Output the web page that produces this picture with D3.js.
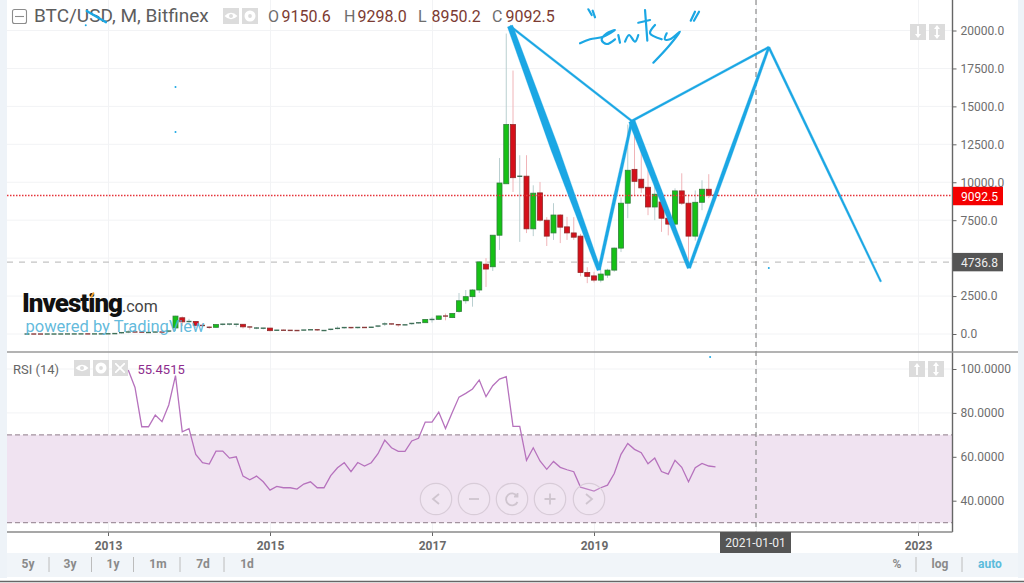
<!DOCTYPE html>
<html>
<head>
<meta charset="utf-8">
<script src="https://cdn.jsdelivr.net/npm/d3@7"></script>
<style>
    html, body { margin: 0; padding: 0; background: #fff; overflow: hidden; }
    text { font-family: Roboto, sans-serif; }
</style>
</head>
<body>
<div id="chart"></div>
<script>
// Monthly candles, first one is 2012-01. Month index 0 = 2013-01
const firstMonth = -12;
const opens = [
    5.3, 5.5, 5, 4.9, 5, 5.1, 6.6, 9.3, 10, 12.4, 10.8, 12.5,
    13.5, 20, 33, 93, 140, 129, 97, 106, 135, 133, 400, 1070,
    800, 830, 570, 450, 440, 620, 650, 630, 640, 470, 390, 380,
    390, 220, 255, 245, 235, 230, 265, 285, 230, 236, 315, 377,
    430, 370, 437, 416, 450, 530, 670, 620, 575, 610, 700, 745,
    960, 965, 1190, 1080, 1480, 2190, 2460, 2900, 4600, 4430, 6510, 9900,
    13800, 10300, 10400, 6930, 9300, 7500, 6660, 7840, 7060, 6660, 6450, 4050,
    3830, 3550, 3880, 4210, 5660, 8620, 10850, 10200, 9670, 8370, 8700, 7630,
    7240, 9430, 8620, 6450, 8680, 9540, 9150.6
];
const highs = [
    7, 6.5, 5.5, 5.5, 5.5, 6.9, 9.5, 15, 12.6, 13, 13, 14,
    21, 35, 95, 260, 140, 130, 110, 140, 150, 220, 1200, 1160,
    1000, 850, 700, 500, 630, 680, 660, 680, 650, 490, 450, 400,
    400, 265, 300, 260, 245, 270, 310, 290, 245, 320, 500, 465,
    460, 445, 440, 470, 540, 780, 680, 625, 615, 700, 750, 970,
    1100, 1200, 1350, 1370, 2700, 2900, 2950, 4800, 5000, 6500, 11600, 19800,
    17360, 11780, 11780, 9800, 10020, 7700, 8620, 7900, 7720, 7700, 6600, 4400,
    4100, 4200, 4300, 5700, 9000, 13800, 13400, 12570, 10790, 10500, 9500, 7800,
    9600, 10590, 9200, 9460, 10130, 10530, 9298
];
const lows = [
    4, 4, 4.5, 4.7, 4.7, 5, 6.3, 7, 9.5, 9.5, 10, 12.5,
    13, 19, 32, 50, 90, 90, 65, 95, 120, 105, 200, 520,
    750, 400, 450, 340, 420, 560, 570, 460, 360, 290, 320, 300,
    170, 210, 240, 215, 225, 225, 265, 200, 225, 235, 310, 350,
    350, 360, 395, 410, 440, 525, 610, 480, 580, 605, 690, 740,
    750, 950, 900, 1050, 1400, 2000, 1800, 2700, 3100, 4150, 5540, 9900,
    9360, 6070, 6650, 6450, 7400, 5800, 6200, 5990, 6200, 6200, 3800, 3350,
    3400, 3400, 3700, 4100, 5400, 7630, 9150, 9300, 7830, 7500, 6730, 6500,
    6900, 8500, 4900, 6150, 8160, 8950, 8950.2
];
const closes = [
    5.5, 5, 4.9, 5, 5.1, 6.6, 9.3, 10, 12.4, 10.8, 12.5, 13.5,
    20, 33, 93, 140, 129, 97, 106, 135, 133, 200, 1180, 800,
    830, 570, 450, 440, 620, 650, 660, 650, 470, 390, 400, 390,
    220, 255, 245, 235, 230, 265, 285, 230, 236, 315, 377, 430,
    370, 437, 416, 450, 530, 670, 620, 600, 610, 700, 745, 960,
    965, 1190, 1080, 1350, 2190, 2460, 2900, 4750, 4280, 6510, 9950, 13800,
    10300, 10400, 6930, 9280, 7500, 6450, 7840, 7040, 6660, 6380, 4050, 3800,
    3550, 3950, 4210, 5660, 8620, 10790, 10060, 9630, 8370, 9210, 7630, 7240,
    9430, 8620, 6450, 8680, 9540, 9140, 9092.5
];

// RSI(14), first point is 2013-04
const rsiFirstMonth = 3;
const rsiValues = [
    99.5, 91.6, 73.7, 73.7, 79, 76, 83.6, 97, 71.4,
    72.8, 61.1, 57.3, 56.7, 62.6, 62.6, 59.4, 60, 51.2, 49.5, 51.2, 48.6,
    44.8, 46.5, 45.9, 45.9, 45.3, 47.6, 48.6, 45.9, 45.9, 51.4, 55, 57.3,
    53.2, 57.4, 55.8, 57.3, 61.4, 67.6, 64.1, 62.5, 62.5, 67.2, 68.4, 75.8,
    75.8, 80.4, 72.9, 80.2, 87.2, 88.9, 90.9, 95, 87.4, 92.4, 95.4, 96.5,
    73.9, 73.9, 58.4, 64.1, 58.1, 54.3, 57.9, 55.2, 54.1, 53.2, 46.2, 45.3,
    44.4, 45.9, 47.1, 52.4, 61.1, 66.1, 63.4, 61.9, 56.8, 59.4, 53.3, 52.1,
    58.4, 55.2, 48.6, 55, 57, 55.8, 55.4515
];

const priceTicks = [0, 2500, 5000, 7500, 10000, 12500, 15000, 17500, 20000];
const rsiTicks = [40, 60, 80, 100];
const yearTicks = [0, 24, 48, 72, 96, 120];
// 2021 and 5000.0 sit under the cursor and price tags in the original, no label there
const yearLabels = ["2013", "2015", "2017", "2019", "", "2023"];
const hiddenPriceTick = 5000;
const lastPrice = 9092.5;
const levelPrice = 4736.8;
const cursorMonth = 96;
const rsiBand = [30, 70];
const rangeLabels = ["5y", "3y", "1y", "1m", "7d", "1d"];
const ohlcLabels = [["O", "9150.6"], ["H", "9298.0"], ["L", "8950.2"], ["C", "9092.5"]];

// Hand drawn pattern, as [month index, price]
const patternA = [59.56, 20296];
const patternB = [72.74, 4217];
const patternC = [77.6, 14036];
const patternD = [86.1, 4349];
const patternE = [97.9, 18900];
const patternF = [114.5, 3446];
// from, to, width at start, width in the middle, width at end
const patternLegs = [
    [patternA, patternC, 2.1, 2.1, 2.1],
    [patternC, patternE, 2.1, 2.1, 2.1],
    [patternA, patternB, 5.5, 8, 4],
    [patternB, patternC, 3, 3.4, 2.6],
    [patternC, patternD, 6.5, 5.5, 4],
    [patternD, patternE, 3, 4, 2.4],
    [patternE, patternF, 2.2, 2.2, 1.8]
];

// Handwriting on top of the chart, same units
const scribbles = [
    [[69.93, 19156], [71.41, 19420], [73.38, 19591], [75.11, 20033], [73.88, 19815], [73.14, 19374], [73.88, 19110], [75.11, 19420]],
    [[75.6, 19703], [75.85, 19196]],
    [[76.6, 19262], [77.2, 19703], [78.07, 19262], [78.56, 19703]],
    [[79.56, 21351], [79.9, 19328]],
    [[78.56, 20514], [80.3, 20692]],
    [[81.04, 20362], [80.3, 19815], [82.03, 19420]],
    [[82.77, 19815], [82.5, 19420], [83.26, 19420], [84.74, 19921], [83, 18932], [80.79, 17878]],
    [[71.16, 21397], [71.66, 21021]],
    [[71.8, 21305], [72.15, 20870]],
    [[86.96, 21239], [86.33, 20646]],
    [[87.56, 21239], [86.81, 20646]],
    [[-3.16, 21285], [-0.3, 20540]]
];
const specks = [[-3.3, 20350], [10, 16280], [10, 13310], [97.9, 4350], [89.2, -1520]];

const plotLeft = 7, plotRight = 952.5, plotBottom = 532, paneSplit = 352, pageRight = 1018;

const svg = d3.select("#chart").append("svg")
    .attr("width", 1024)
    .attr("height", 583)
    .style("display", "block");

const x = d3.scaleLinear().domain([0, 120]).range([108, 918]);
const y = d3.scaleLinear().domain([0, 20000]).range([334, 30.5]);
const yRsi = d3.scaleLinear().domain([40, 100]).range([500.7, 369]);

// Page frame and bottom bar
svg.append("rect").attr("width", 1024).attr("height", 583).attr("fill", "#fff");
svg.append("rect").attr("width", plotLeft).attr("height", 578).attr("fill", "#eef3f8");
svg.append("rect").attr("x", pageRight).attr("width", 6).attr("height", 578).attr("fill", "#eef3f8");
svg.append("rect").attr("x", plotLeft).attr("y", 553).attr("width", pageRight - plotLeft).attr("height", 24).attr("fill", "#f1f5f9");
svg.append("line").attr("x1", 0).attr("x2", 1024).attr("y1", 581.5).attr("y2", 581.5).attr("stroke", "#666").attr("stroke-width", 1.5);

// Grid
const grid = svg.append("g").attr("stroke", "#f2f3f5").attr("stroke-width", 1);
grid.selectAll(".gx").data(yearTicks).join("line")
    .attr("x1", d => x(d) + 0.5).attr("x2", d => x(d) + 0.5)
    .attr("y1", 0).attr("y2", plotBottom);
grid.selectAll(".gy").data(priceTicks).join("line")
    .attr("x1", plotLeft).attr("x2", plotRight)
    .attr("y1", d => y(d)).attr("y2", d => y(d));

// RSI band
svg.append("rect")
    .attr("x", plotLeft)
    .attr("y", yRsi(rsiBand[1]))
    .attr("width", plotRight - plotLeft)
    .attr("height", yRsi(rsiBand[0]) - yRsi(rsiBand[1]))
    .attr("fill", "#f0e3f1");
grid.selectAll(".gr").data(rsiTicks).join("line")
    .attr("x1", plotLeft).attr("x2", plotRight)
    .attr("y1", d => yRsi(d)).attr("y2", d => yRsi(d))
    .attr("stroke", d => d > 70 ? "#f2f3f5" : "#ebdcec");
svg.selectAll(".band").data(rsiBand).join("line")
    .attr("x1", plotLeft).attr("x2", plotRight)
    .attr("y1", d => yRsi(d)).attr("y2", d => yRsi(d))
    .attr("stroke", "#a3939f")
    .attr("stroke-width", 1.4)
    .attr("stroke-dasharray", "5,3");

// Price level lines
svg.append("line")
    .attr("x1", plotLeft).attr("x2", plotRight)
    .attr("y1", y(levelPrice)).attr("y2", y(levelPrice))
    .attr("stroke", "#c4c4c4").attr("stroke-width", 1.3).attr("stroke-dasharray", "6,6");

// Candles
const candles = opens.map((o, i) => ({
    month: firstMonth + i, o, h: highs[i], l: lows[i], c: closes[i]
}));
const upFill = "#16c116", upEdge = "#2f7f3a", downFill = "#d5101a", downEdge = "#8f2a2a";
const isThin = d => Math.abs(y(d.o) - y(d.c)) < 2.2;

svg.append("g").selectAll("line").data(candles).join("line")
    .attr("x1", d => x(d.month)).attr("x2", d => x(d.month))
    .attr("y1", d => y(d.h)).attr("y2", d => y(d.l))
    .attr("stroke", d => d.c >= d.o ? "#b9cfd0" : "#f0b4b8")
    .attr("stroke-width", 1);

// very short bodies are all edge, they read as dark dashes
svg.append("g").selectAll("rect").data(candles).join("rect")
    .attr("x", d => x(d.month) - 2.5)
    .attr("width", 5)
    .attr("y", d => y(Math.max(d.o, d.c)) - (isThin(d) ? 0.6 : 0))
    .attr("height", d => isThin(d) ? 1.4 : Math.abs(y(d.o) - y(d.c)))
    .attr("fill", d => isThin(d) ? (d.c >= d.o ? "#3f6f58" : "#8a3a3a") : (d.c >= d.o ? upFill : downFill))
    .attr("stroke", d => isThin(d) ? "none" : (d.c >= d.o ? upEdge : downEdge))
    .attr("stroke-width", 0.8);

svg.append("line")
    .attr("x1", plotLeft).attr("x2", plotRight)
    .attr("y1", y(lastPrice) - 0.5).attr("y2", y(lastPrice) - 0.5)
    .attr("stroke", "#e5343b").attr("stroke-width", 1.4).attr("stroke-dasharray", "1.5,1.5");

// RSI line
const rsiLine = d3.line()
    .x((d, i) => x(rsiFirstMonth + i))
    .y(d => yRsi(d));
svg.append("path")
    .datum(rsiValues)
    .attr("fill", "none")
    .attr("stroke", "#b672bd")
    .attr("stroke-width", 1.3)
    .attr("d", rsiLine);

// Zoom buttons on the RSI pane
const navX = [436, 474, 512, 550, 589];
const nav = svg.append("g").attr("fill", "none").attr("stroke", "#d8ccd8").attr("stroke-width", 1.2);
nav.selectAll("circle").data(navX).join("circle")
    .attr("cx", d => d).attr("cy", 499).attr("r", 15.7)
    .attr("fill", "#fff").attr("fill-opacity", 0.12);
const navGlyphs = ["M3,-5L-3,0L3,5", "M-5,0H5", "M5,-3A6,6 0 1 0 5.5,3M5.5,-6V-2.5H2", "M-5.5,0H5.5M0,-5.5V5.5", "M-3,-5L3,0L-3,5"];
nav.selectAll("path").data(navGlyphs).join("path")
    .attr("transform", (d, i) => `translate(${navX[i]},499)`)
    .attr("stroke", "#cfc5cf")
    .attr("stroke-width", 1.8)
    .attr("d", d => d);

// Axes
const yAxis = svg.append("g")
    .attr("transform", `translate(${plotRight},0)`)
    .call(d3.axisRight(y).tickValues(priceTicks)
        .tickFormat(d => d === hiddenPriceTick ? "" : d3.format(".1f")(d))
        .tickSize(4).tickPadding(4));
const rsiAxis = svg.append("g")
    .attr("transform", `translate(${plotRight},0)`)
    .call(d3.axisRight(yRsi).tickValues(rsiTicks).tickFormat(d3.format(".4f")).tickSize(4).tickPadding(4));
const xAxis = svg.append("g")
    .attr("transform", `translate(0,${plotBottom})`)
    .call(d3.axisBottom(x).tickValues(yearTicks).tickFormat((d, i) => yearLabels[i]).tickSize(4).tickPadding(5));

[yAxis, rsiAxis, xAxis].forEach(a => {
    a.select(".domain").remove();
    a.selectAll("line").attr("stroke", "#666");
    a.selectAll("text")
        .style("font-family", "Roboto, sans-serif")
        .style("font-size", "12px")
        .attr("fill", "#6e6e6e");
});
xAxis.selectAll("text").style("font-weight", "700").attr("fill", "#6a6a6a");

svg.append("line").attr("x1", plotRight).attr("x2", plotRight).attr("y1", 0).attr("y2", plotBottom).attr("stroke", "#666").attr("stroke-width", 1.4);
svg.append("line").attr("x1", plotLeft).attr("x2", plotRight).attr("y1", plotBottom).attr("y2", plotBottom).attr("stroke", "#8a8a8a").attr("stroke-width", 1.4);
svg.append("line").attr("x1", plotLeft).attr("x2", pageRight).attr("y1", paneSplit).attr("y2", paneSplit).attr("stroke", "#9a9a9a").attr("stroke-width", 1.4);

// Crosshair and its date label
svg.append("line")
    .attr("x1", x(cursorMonth)).attr("x2", x(cursorMonth))
    .attr("y1", 0).attr("y2", plotBottom)
    .attr("stroke", "#8d8d8d").attr("stroke-width", 1.2).attr("stroke-dasharray", "5,4");
svg.append("rect").attr("x", x(cursorMonth) - 36).attr("y", plotBottom).attr("width", 71).attr("height", 21).attr("fill", "#555");
svg.append("text")
    .attr("x", x(cursorMonth) - 0.5).attr("y", 547)
    .attr("text-anchor", "middle").attr("fill", "#eee").style("font-size", "12px")
    .text("2021-01-01");

// Price tags on the axis
[[lastPrice, "#f40000", "#fff"], [levelPrice, "#555", "#eee"]].forEach(([v, bg, fg]) => {
    svg.append("rect").attr("x", plotRight + 0.5).attr("y", y(v) - 9.2).attr("width", 50).attr("height", 18.4).attr("fill", bg);
    svg.append("text")
        .attr("x", plotRight + 8.5).attr("y", y(v) + 4.5)
        .attr("fill", fg).style("font-size", "12px")
        .text(d3.format(".1f")(v));
});

// Legend
svg.append("rect").attr("x", 12.5).attr("y", 9.5).attr("width", 14).attr("height", 14).attr("rx", 2)
    .attr("fill", "none").attr("stroke", "#8c8c8c").attr("stroke-width", 1.1);
svg.append("line").attr("x1", 15).attr("x2", 24).attr("y1", 16.5).attr("y2", 16.5).attr("stroke", "#8c8c8c").attr("stroke-width", 1.1);
svg.append("text").attr("x", 34).attr("y", 22).attr("fill", "#5d5d5d").style("font-size", "19px").text("BTC/USD, M, Bitfinex");

const ohlcX = [268, 344, 418, 492];
ohlcLabels.forEach(([k, v], i) => {
    svg.append("text").attr("x", ohlcX[i]).attr("y", 21.5).attr("fill", "#6e6e6e").style("font-size", "16px").text(k);
    svg.append("text").attr("x", ohlcX[i] + 13.5).attr("y", 21.5).attr("fill", "#7c3b32").style("font-size", "16px").text(v);
});

svg.append("text").attr("x", 13).attr("y", 373.5).attr("fill", "#666").style("font-size", "13px").text("RSI (14)");
svg.append("text").attr("x", 137.5).attr("y", 373.5).attr("fill", "#8e2d8e").style("font-size", "13px").text("55.4515");

// Small grey buttons
const eye = "M-6.5,0Q0,-6.5 6.5,0Q0,6.5 -6.5,0ZM-2,0a2,2 0 1 0 4,0a2,2 0 1 0 -4,0Z";
const gear = "M-5.5,0a5.5,5.5 0 1 0 11,0a5.5,5.5 0 1 0 -11,0ZM-1.9,0a1.9,1.9 0 1 0 3.8,0a1.9,1.9 0 1 0 -3.8,0Z";
const cross = "M-5,-5L-3.8,-5L0,-1.2L3.8,-5L5,-5L5,-3.8L1.2,0L5,3.8L5,5L3.8,5L0,1.2L-3.8,5L-5,5L-5,3.8L-1.2,0L-5,-3.8Z";
const arrowDown = "M-0.9,-6H0.9V2H3L0,6L-3,2H-0.9Z";
const arrowUp = "M-0.9,6H0.9V-2H3L0,-6L-3,-2H-0.9Z";
const arrowBoth = "M-0.9,-3H-3L0,-7L3,-3H0.9V3H3L0,7L-3,3H-0.9Z";
const buttons = [
    [231, 16, eye], [250, 16, gear],
    [82, 368, eye], [101, 368, gear], [120, 368, cross],
    [918, 32, arrowDown], [937, 32, arrowBoth],
    [917, 369, arrowUp], [936, 369, arrowBoth]
];
const btn = svg.append("g").selectAll("g").data(buttons).join("g")
    .attr("transform", d => `translate(${d[0]},${d[1]})`);
btn.append("rect").attr("x", -8).attr("y", -8).attr("width", 16).attr("height", 16).attr("fill", "#dcdcdc");
btn.append("path").attr("d", d => d[2]).attr("fill", "#fff").attr("fill-rule", "evenodd");

// Logo
svg.append("text").attr("x", 22).attr("y", 311.5).attr("fill", "#111")
    .style("font-size", "26px").style("font-weight", "900").style("letter-spacing", "-1px").text("Investing");
svg.append("text").attr("x", 122).attr("y", 311.5).attr("fill", "#444").style("font-size", "16px").text(".com");
svg.append("path").attr("d", "M90,297L93,292L94.5,293L92,298Z").attr("fill", "#f0a030");
svg.append("text").attr("x", 25.5).attr("y", 332).attr("fill", "#4fb2d8").attr("fill-opacity", 0.9)
    .style("font-size", "16.5px").text("powered by TradingView");

// Bottom bar
const rangeX = [28, 70, 113, 158, 203, 247];
const rangeSeps = [49, 91.5, 133.5, 180, 224, 916, 962];
svg.append("g").selectAll("line").data(rangeSeps).join("line")
    .attr("x1", d => d).attr("x2", d => d).attr("y1", 557).attr("y2", 572)
    .attr("stroke", "#bcbcbc");
svg.append("g").selectAll("text").data(rangeLabels).join("text")
    .attr("x", (d, i) => rangeX[i]).attr("y", 568)
    .attr("text-anchor", "middle").attr("fill", "#8a8a8a")
    .style("font-size", "12px").style("font-weight", "700")
    .text(d => d);
[["%", 897, "#8a8a8a"], ["log", 940, "#8a8a8a"], ["auto", 990, "#5cbcdc"]].forEach(([t, px, col]) => {
    svg.append("text").attr("x", px).attr("y", 568).attr("text-anchor", "middle").attr("fill", col)
        .style("font-size", "12px").style("font-weight", "700").text(t);
});

// Drawn pattern, each leg is a tapered stroke
const blue = "#1ba7e4";
const outline = d3.line();
patternLegs.forEach(([a, b, w0, w1, w2]) => {
    const ax = x(a[0]), ay = y(a[1]), bx = x(b[0]), by = y(b[1]);
    const len = Math.hypot(bx - ax, by - ay);
    const nx = -(by - ay) / len / 2, ny = (bx - ax) / len / 2;
    const mx = (ax + bx) / 2, my = (ay + by) / 2;
    svg.append("path")
        .attr("d", outline([
            [ax + nx * w0, ay + ny * w0], [mx + nx * w1, my + ny * w1], [bx + nx * w2, by + ny * w2],
            [bx - nx * w2, by - ny * w2], [mx - nx * w1, my - ny * w1], [ax - nx * w0, ay - ny * w0]
        ]) + "Z")
        .attr("fill", blue)
        .attr("stroke", blue)
        .attr("stroke-width", 0.3)
        .attr("stroke-linejoin", "round");
});

const scribbleLine = d3.line()
    .x(d => x(d[0]))
    .y(d => y(d[1]))
    .curve(d3.curveCatmullRom);
svg.append("g").selectAll("path").data(scribbles).join("path")
    .attr("d", scribbleLine)
    .attr("fill", "none")
    .attr("stroke", blue)
    .attr("stroke-width", 2.2)
    .attr("stroke-linecap", "round")
    .attr("stroke-linejoin", "round");

svg.append("g").selectAll("circle").data(specks).join("circle")
    .attr("cx", d => x(d[0])).attr("cy", d => y(d[1])).attr("r", 1)
    .attr("fill", blue);
</script>
</body>
</html>
